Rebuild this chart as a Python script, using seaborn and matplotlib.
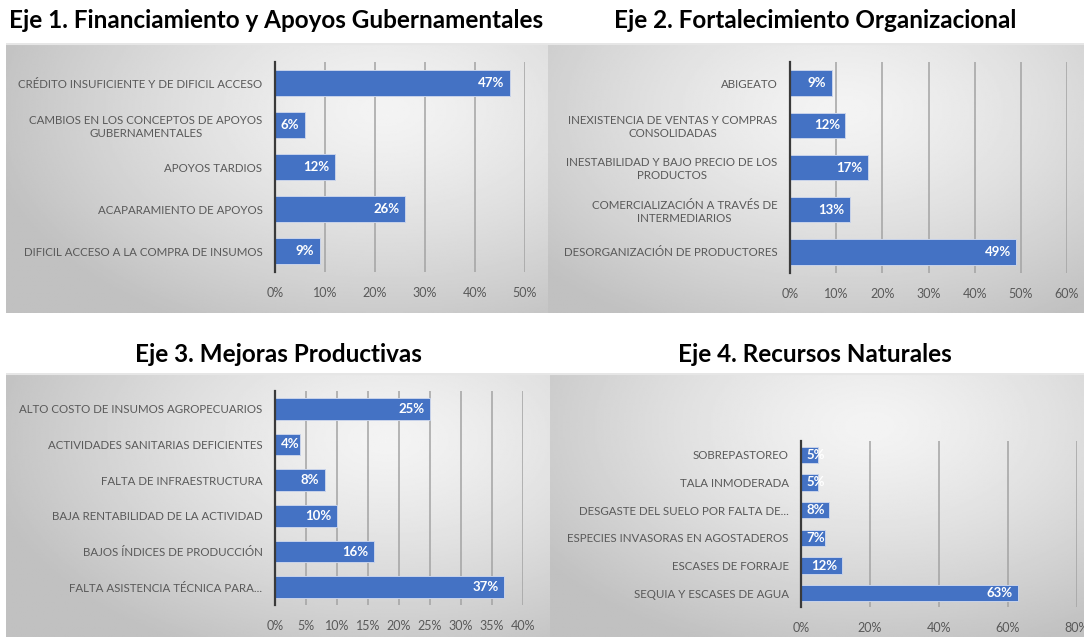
import matplotlib
matplotlib.use("Agg")
import matplotlib.pyplot as plt
import seaborn as sns
import numpy as np

# ---- data ----
eje1_title = "Eje 1. Financiamiento y Apoyos Gubernamentales"
eje1_cats = ["CRÉDITO INSUFICIENTE Y DE DIFICIL ACCESO",
             "CAMBIOS EN LOS CONCEPTOS DE APOYOS\nGUBERNAMENTALES",
             "APOYOS TARDIOS",
             "ACAPARAMIENTO DE APOYOS",
             "DIFICIL ACCESO A LA COMPRA DE INSUMOS"]
eje1_vals = [47, 6, 12, 26, 9]

eje2_title = "Eje 2. Fortalecimiento Organizacional"
eje2_cats = ["ABIGEATO",
             "INEXISTENCIA DE VENTAS Y COMPRAS\nCONSOLIDADAS",
             "INESTABILIDAD Y BAJO PRECIO DE LOS\nPRODUCTOS",
             "COMERCIALIZACIÓN A TRAVÉS DE\nINTERMEDIARIOS",
             "DESORGANIZACIÓN DE PRODUCTORES"]
eje2_vals = [9, 12, 17, 13, 49]

eje3_title = "Eje 3. Mejoras Productivas"
eje3_cats = ["ALTO COSTO DE INSUMOS AGROPECUARIOS",
             "ACTIVIDADES SANITARIAS DEFICIENTES",
             "FALTA DE INFRAESTRUCTURA",
             "BAJA RENTABILIDAD DE LA ACTIVIDAD",
             "BAJOS ÍNDICES DE PRODUCCIÓN",
             "FALTA ASISTENCIA TÉCNICA PARA..."]
eje3_vals = [25, 4, 8, 10, 16, 37]

eje4_title = "Eje 4. Recursos Naturales"
eje4_cats = ["SOBREPASTOREO",
             "TALA INMODERADA",
             "DESGASTE DEL SUELO POR FALTA DE...",
             "ESPECIES INVASORAS EN AGOSTADEROS",
             "ESCASES DE FORRAJE",
             "SEQUIA Y ESCASES DE AGUA"]
eje4_vals = [5, 5, 8, 7, 12, 63]

sns.set_style("white")
plt.rcParams['font.family'] = ['Lato', 'DejaVu Sans']

W, H = 1084, 637
BLUE = "#4472C4"
fig = plt.figure(figsize=(W / 100, H / 100), dpi=100)


def rect(l, t, r, b):
    return [l / W, 1 - b / H, (r - l) / W, (b - t) / H]


def background(box, cx, cy):
    ax = fig.add_axes(rect(*box))
    yy, xx = np.mgrid[0:1:200j, 0:1:300j]
    d = np.sqrt(((xx - cx) / 0.75) ** 2 + ((yy - cy) / 0.9) ** 2)
    img = 0.955 - 0.2 * np.clip(d, 0, 1) ** 1.3
    ax.imshow(img, cmap="gray", vmin=0, vmax=1, extent=[0, 1, 1, 0], aspect="auto")
    ax.set_axis_off()
    ax.axhline(0.003, color="#e6e6e6", lw=1.5)


def panel(box, cats, vals, xmax, step, title, title_xy):
    ax = fig.add_axes(rect(*box))
    ax.set_facecolor("none")
    sns.barplot(x=vals, y=cats, orient="h", color=BLUE, saturation=1,
                width=0.6, edgecolor="#c8d3ea", linewidth=0.7, ax=ax)
    ax.set_xlim(0, xmax)
    ticks = list(range(0, xmax + 1, step))
    ax.set_xticks(ticks)
    ax.set_xticklabels([f"{t}%" for t in ticks])
    ax.set_xlabel("")
    ax.set_ylabel("")
    ax.set_axisbelow(True)
    ax.xaxis.grid(True, color="#a3a3a3", lw=1.1)
    ax.yaxis.grid(False)
    for s in ["top", "right", "bottom"]:
        ax.spines[s].set_visible(False)
    ax.spines["left"].set_color("#3a3a3a")
    ax.spines["left"].set_linewidth(1.6)
    ax.tick_params(axis="both", length=0, colors="#595959")
    ax.tick_params(axis="y", pad=9, labelsize=8.3)
    ax.tick_params(axis="x", pad=11, labelsize=9)
    for lbl in ax.get_yticklabels():
        lbl.set_multialignment("center")

    # data labels, white bold at the inside end of each bar
    width_px = box[2] - box[0]
    labels = ax.bar_label(ax.containers[0], labels=[f"{v}%" for v in vals],
                          padding=-4, color="white", fontweight="bold", fontsize=9.5)
    for t, v in zip(labels, vals):
        if v / xmax * width_px < 28:
            t.xy = (0, t.xy[1])
            t.set_position((4, 0))
            t.set_ha("left")
        else:
            t.set_ha("right")

    fig.text(title_xy[0] / W, 1 - title_xy[1] / H, title, ha="center", va="center",
             fontsize=17.5, fontweight="bold", color="black")
    return ax


background((6, 43, 548, 313), 0.7, 0.25)
background((548, 43, 1084, 313), 0.55, 0.25)
background((6, 373, 550, 637), 0.7, 0.25)
background((550, 373, 1084, 637), 0.6, 0.2)

panel((275, 62, 525, 272), eje1_cats, eje1_vals, 50, 10, eje1_title, (276, 21))
panel((790, 62, 1067, 273), eje2_cats, eje2_vals, 60, 10, eje2_title, (815, 21))
panel((275, 391, 523, 605), eje3_cats, eje3_vals, 40, 5, eje3_title, (278, 354))
panel((801, 441, 1077, 607), eje4_cats, eje4_vals, 80, 20, eje4_title, (815, 354))

fig.savefig("out.png", dpi=100, facecolor="white")
